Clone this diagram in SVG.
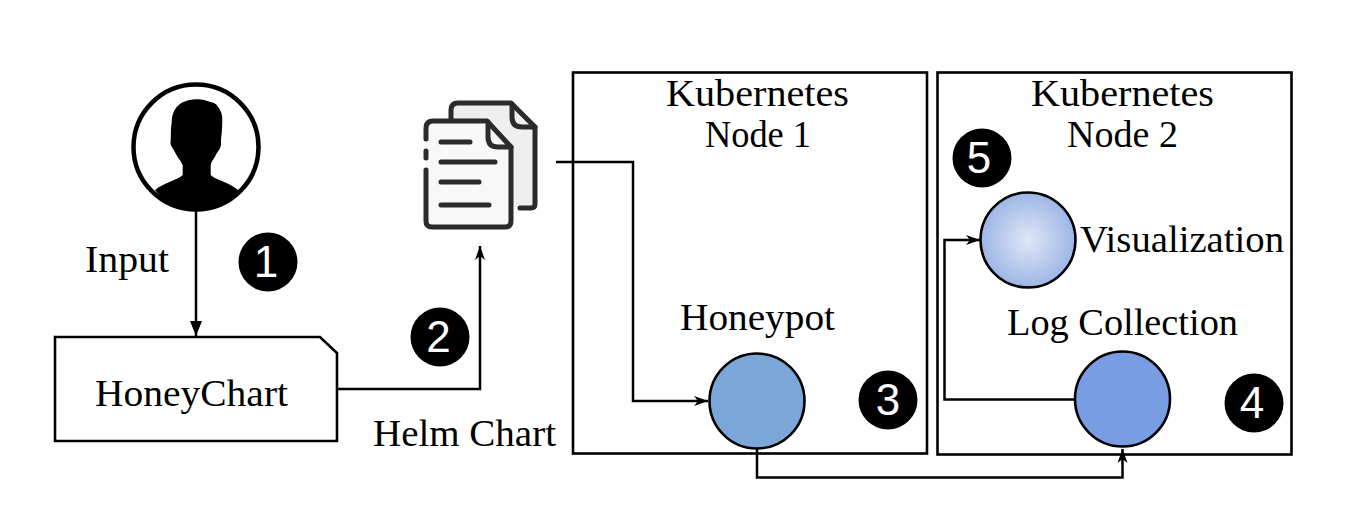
<svg xmlns="http://www.w3.org/2000/svg" width="1366" height="514" viewBox="0 0 1366 514">
<style>
.t{font-family:"Liberation Serif",serif;font-size:38px;fill:#000;text-anchor:middle}
.n{font-family:"Liberation Sans",sans-serif;font-size:44px;fill:#fff;text-anchor:middle}
.box{fill:#fff;stroke:#000;stroke-width:2.6}
.c{fill:none;stroke:#000;stroke-width:2.5}
.ic{fill:none;stroke:#2b2b2b;stroke-width:5;stroke-linecap:round;stroke-linejoin:round}
</style>
<defs>
<marker id="a" markerUnits="userSpaceOnUse" markerWidth="16" markerHeight="14" refX="15" refY="6.500" orient="auto"><path d="M0 0.500L15 6.500L0 12.500Z" fill="#000"/></marker>
<marker id="s" markerUnits="userSpaceOnUse" markerWidth="16" markerHeight="14" refX="14" refY="6" orient="auto"><path d="M0 1L14 6L0 11L4 6Z" fill="#000"/></marker>
<radialGradient id="g"><stop offset="0" stop-color="#dfe7f6"/><stop offset="1" stop-color="#9db6e6"/></radialGradient>
</defs>
<g id="node1"><rect class="box" x="573" y="72.500" width="354" height="381"/><text class="t" x="757.500" y="106" textLength="183" lengthAdjust="spacingAndGlyphs">Kubernetes</text><text class="t" x="758" y="147" textLength="106" lengthAdjust="spacingAndGlyphs">Node 1</text></g>
<g id="node2"><rect class="box" x="937.500" y="72.500" width="354" height="382"/><text class="t" x="1122.500" y="106" textLength="183" lengthAdjust="spacingAndGlyphs">Kubernetes</text><text class="t" x="1122.500" y="147" textLength="111" lengthAdjust="spacingAndGlyphs">Node 2</text></g>
<g id="connectors">
<path class="c" d="M196 210V336" marker-end="url(#a)"/>
<path class="c" d="M338 389H480V246" marker-end="url(#s)"/>
<path class="c" d="M556 162H633V401H708" marker-end="url(#s)"/>
<path class="c" d="M757 449V477.500H1122.500V449" marker-end="url(#s)"/>
<path class="c" d="M1075 399.500H944.500V240H980" marker-end="url(#s)"/>
</g>
<g id="user"><circle cx="196" cy="147" r="62.500" fill="#fff" stroke="#000" stroke-width="4.500"/>
<path d="M196.700 99.300C201 99 204 100 206.700 100.700C210 102 214 102 216.700 105C221 110 222.500 115 222.300 120C222.300 125 222 130 221.700 133.300C221 137 221 141 221 145C220 150 217 152 215 156.700C213 160 211 162 210.700 165V175C214 179 228 182 238.300 190C226 204 211 211 196 211C181 211 166 204 155 190C163 183 178 180 182.700 175V165C181 162 180 160 178.300 158.300C176 154 174 150 171.700 146.700C170 144 170.500 142 170.700 140C171 135 170.500 128 171.700 123C172 112 176 100 196.700 99.300Z" fill="#000"/></g>
<g id="honeychart"><path class="box" d="M55 337H320L337 353V441H55Z"/><text class="t" x="191.500" y="406" textLength="193" lengthAdjust="spacingAndGlyphs">HoneyChart</text></g>
<g id="docs">
<path d="M451 102H512L536 126V207H451Z" fill="#efefef"/>
<path class="ic" d="M451 120V110Q451 103 458 103H511L535 127V204Q535 208 531 208H520"/>
<path class="ic" d="M512 104V117Q512 127 522 127H535" fill="#dcdcdc"/>
<path d="M426 120H488L511 146V227H426Z" fill="#f8f8f8"/>
<path class="ic" d="M426 139V128Q426 121 433 121H487L511 147V221Q511 227 505 227H432Q426 227 426 221V170M426 151V158"/>
<path class="ic" d="M488 122V137Q488 147 498 147H511" fill="#dcdcdc"/>
<path class="ic" d="M441 142H470M441 162H495M441 182H479M441 205H489"/>
</g>
<g id="honeypot"><circle cx="757" cy="401" r="47.500" fill="#7ba6d8" stroke="#000" stroke-width="2.600"/><text class="t" x="757.500" y="330" textLength="155" lengthAdjust="spacingAndGlyphs">Honeypot</text></g>
<g id="logcollection"><circle cx="1122.500" cy="399" r="47.500" fill="#789de3" stroke="#000" stroke-width="2.600"/><text class="t" x="1122.500" y="335" textLength="231" lengthAdjust="spacingAndGlyphs">Log Collection</text></g>
<g id="visualization"><circle cx="1028" cy="240" r="47.500" fill="url(#g)" stroke="#000" stroke-width="2.600"/><text class="t" x="1182" y="252" textLength="204" lengthAdjust="spacingAndGlyphs">Visualization</text></g>
<text class="t" x="127" y="272" textLength="84" lengthAdjust="spacingAndGlyphs">Input</text>
<text class="t" x="464.500" y="446" textLength="183" lengthAdjust="spacingAndGlyphs">Helm Chart</text>
<g id="b1"><circle cx="268" cy="262" r="29.500"/><text class="n" x="266" y="277">1</text></g>
<g id="b2"><circle cx="440" cy="337" r="29.500"/><text class="n" x="438.500" y="352">2</text></g>
<g id="b3"><circle cx="888" cy="400" r="29.500"/><text class="n" x="888" y="415">3</text></g>
<g id="b4"><circle cx="1254" cy="403" r="29.500"/><text class="n" x="1252" y="418">4</text></g>
<g id="b5"><circle cx="982" cy="158" r="29.500"/><text class="n" x="979" y="173">5</text></g>
</svg>
